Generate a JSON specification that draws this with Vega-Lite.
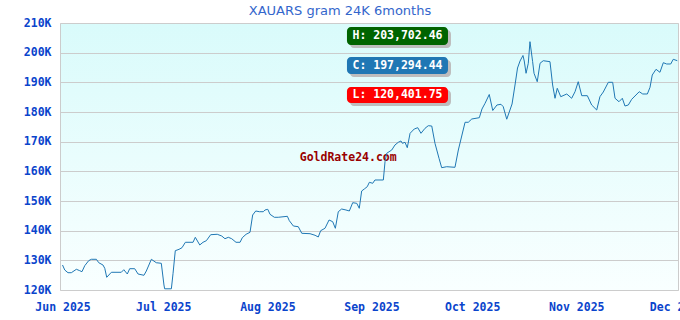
{
  "$schema": "https://vega.github.io/schema/vega-lite/v6.json",
  "width": 618,
  "height": 267,
  "autosize": {"type": "none"},
  "padding": {"left": 60, "top": 23, "right": 2, "bottom": 30},
  "background": "white",
  "title": {"text": "XAUARS gram 24K 6months", "font": "DejaVu Sans", "fontSize": 13, "fontWeight": "normal", "color": "#3366cc", "anchor": "middle", "dx": -29, "dy": 19, "offset": 5, "baseline": "bottom"},
  "config": {
    "view": {"stroke": "#cccccc", "strokeWidth": 1, "fill": {"gradient": "linear", "x1": 0, "y1": 0, "x2": 0, "y2": 1, "stops": [{"offset": 0, "color": "#d9fbfb"}, {"offset": 1, "color": "#f9ffff"}]}},
    "axis": {"title": null, "ticks": false, "domain": false, "labelFont": "DejaVu Sans Mono", "labelFontWeight": "bold", "labelFontSize": 11.5, "labelColor": "#0a44cc", "labelOverlap": false},
    "axisY": {"tickCount": 20, "grid": true, "gridColor": "#cccccc", "gridWidth": 1, "labelPadding": 9},
    "axisX": {"grid": false, "labelPadding": 11, "labelFlush": false}
  },
  "datasets": {
    "prices": [
      {"date": "2025-06-01T00:00", "price": 128430},
      {"date": "2025-06-01T16:00", "price": 126740},
      {"date": "2025-06-02T15:00", "price": 125830},
      {"date": "2025-06-03T15:00", "price": 125830},
      {"date": "2025-06-05T03:00", "price": 126980},
      {"date": "2025-06-06T03:00", "price": 126510},
      {"date": "2025-06-06T19:00", "price": 126170},
      {"date": "2025-06-07T15:00", "price": 128190},
      {"date": "2025-06-08T19:00", "price": 129880},
      {"date": "2025-06-09T14:00", "price": 130350},
      {"date": "2025-06-11T02:00", "price": 130350},
      {"date": "2025-06-11T19:00", "price": 129200},
      {"date": "2025-06-13T01:00", "price": 128430},
      {"date": "2025-06-13T14:00", "price": 127310},
      {"date": "2025-06-14T04:00", "price": 124280},
      {"date": "2025-06-15T13:00", "price": 125970},
      {"date": "2025-06-18T12:00", "price": 125970},
      {"date": "2025-06-19T06:00", "price": 126840},
      {"date": "2025-06-20T07:00", "price": 125390},
      {"date": "2025-06-21T00:00", "price": 127180},
      {"date": "2025-06-22T12:00", "price": 127180},
      {"date": "2025-06-23T12:00", "price": 125390},
      {"date": "2025-06-25T06:00", "price": 124960},
      {"date": "2025-06-25T23:00", "price": 126400},
      {"date": "2025-06-27T11:00", "price": 130350},
      {"date": "2025-06-28T22:00", "price": 129200},
      {"date": "2025-06-30T10:00", "price": 129000},
      {"date": "2025-07-01T05:00", "price": 121690},
      {"date": "2025-07-01T10:00", "price": 120402},
      {"date": "2025-07-03T10:00", "price": 120402},
      {"date": "2025-07-03T22:00", "price": 125630},
      {"date": "2025-07-04T14:00", "price": 133250},
      {"date": "2025-07-05T17:00", "price": 133720},
      {"date": "2025-07-06T14:00", "price": 134260},
      {"date": "2025-07-07T14:00", "price": 136080},
      {"date": "2025-07-09T21:00", "price": 136080},
      {"date": "2025-07-10T13:00", "price": 137760},
      {"date": "2025-07-11T21:00", "price": 135170},
      {"date": "2025-07-12T20:00", "price": 136080},
      {"date": "2025-07-13T20:00", "price": 136620},
      {"date": "2025-07-15T03:00", "price": 138640},
      {"date": "2025-07-17T02:00", "price": 138780},
      {"date": "2025-07-18T10:00", "price": 138200},
      {"date": "2025-07-19T09:00", "price": 137290},
      {"date": "2025-07-20T09:00", "price": 137760},
      {"date": "2025-07-21T09:00", "price": 137290},
      {"date": "2025-07-22T16:00", "price": 136080},
      {"date": "2025-07-23T21:00", "price": 136080},
      {"date": "2025-07-24T13:00", "price": 137630},
      {"date": "2025-07-25T16:00", "price": 138780},
      {"date": "2025-07-26T20:00", "price": 139450},
      {"date": "2025-07-27T15:00", "price": 145280},
      {"date": "2025-07-28T13:00", "price": 146630},
      {"date": "2025-07-29T15:00", "price": 146390},
      {"date": "2025-07-30T19:00", "price": 146390},
      {"date": "2025-07-31T07:00", "price": 146970},
      {"date": "2025-08-01T03:00", "price": 147200},
      {"date": "2025-08-01T19:00", "price": 145520},
      {"date": "2025-08-03T02:00", "price": 144510},
      {"date": "2025-08-04T06:00", "price": 144510},
      {"date": "2025-08-06T23:00", "price": 144840},
      {"date": "2025-08-07T13:00", "price": 143360},
      {"date": "2025-08-08T18:00", "price": 141570},
      {"date": "2025-08-10T05:00", "price": 141340},
      {"date": "2025-08-11T06:00", "price": 139110},
      {"date": "2025-08-13T17:00", "price": 138980},
      {"date": "2025-08-15T05:00", "price": 138440},
      {"date": "2025-08-16T04:00", "price": 137870},
      {"date": "2025-08-16T21:00", "price": 139990},
      {"date": "2025-08-18T04:00", "price": 140800},
      {"date": "2025-08-19T09:00", "price": 143600},
      {"date": "2025-08-20T11:00", "price": 143020},
      {"date": "2025-08-21T06:00", "price": 140800},
      {"date": "2025-08-22T03:00", "price": 146390},
      {"date": "2025-08-23T03:00", "price": 147300},
      {"date": "2025-08-24T10:00", "price": 146970},
      {"date": "2025-08-25T10:00", "price": 146630},
      {"date": "2025-08-26T10:00", "price": 149430},
      {"date": "2025-08-27T15:00", "price": 149220},
      {"date": "2025-08-28T09:00", "price": 147540},
      {"date": "2025-08-29T02:00", "price": 153370},
      {"date": "2025-08-29T21:00", "price": 154050},
      {"date": "2025-08-30T18:00", "price": 154820},
      {"date": "2025-08-31T09:00", "price": 156300},
      {"date": "2025-09-01T09:00", "price": 155970},
      {"date": "2025-09-02T01:00", "price": 157080},
      {"date": "2025-09-04T13:00", "price": 157080},
      {"date": "2025-09-05T01:00", "price": 163250},
      {"date": "2025-09-05T13:00", "price": 166080},
      {"date": "2025-09-07T01:00", "price": 167190},
      {"date": "2025-09-08T00:00", "price": 168880},
      {"date": "2025-09-09T00:00", "price": 169790},
      {"date": "2025-09-09T19:00", "price": 170230},
      {"date": "2025-09-10T05:00", "price": 169450},
      {"date": "2025-09-11T00:00", "price": 169790},
      {"date": "2025-09-11T16:00", "price": 167970},
      {"date": "2025-09-12T12:00", "price": 172820},
      {"date": "2025-09-13T18:00", "price": 174270},
      {"date": "2025-09-14T19:00", "price": 174710},
      {"date": "2025-09-15T18:00", "price": 172820},
      {"date": "2025-09-16T23:00", "price": 174510},
      {"date": "2025-09-17T22:00", "price": 175380},
      {"date": "2025-09-18T23:00", "price": 175280},
      {"date": "2025-09-19T22:00", "price": 169450},
      {"date": "2025-09-21T03:00", "price": 164390},
      {"date": "2025-09-21T22:00", "price": 161230},
      {"date": "2025-09-23T10:00", "price": 161560},
      {"date": "2025-09-25T21:00", "price": 161360},
      {"date": "2025-09-26T21:00", "price": 167190},
      {"date": "2025-09-28T21:00", "price": 176530},
      {"date": "2025-09-29T20:00", "price": 176530},
      {"date": "2025-09-30T21:00", "price": 177640},
      {"date": "2025-10-03T03:00", "price": 178080},
      {"date": "2025-10-03T22:00", "price": 181010},
      {"date": "2025-10-04T20:00", "price": 182930},
      {"date": "2025-10-06T02:00", "price": 185900},
      {"date": "2025-10-07T03:00", "price": 180510},
      {"date": "2025-10-08T09:00", "price": 182360},
      {"date": "2025-10-09T14:00", "price": 182600},
      {"date": "2025-10-10T06:00", "price": 181790},
      {"date": "2025-10-11T07:00", "price": 177570},
      {"date": "2025-10-12T21:00", "price": 182700},
      {"date": "2025-10-13T18:00", "price": 189100},
      {"date": "2025-10-14T12:00", "price": 194830},
      {"date": "2025-10-15T06:00", "price": 197190},
      {"date": "2025-10-16T03:00", "price": 199050},
      {"date": "2025-10-16T12:00", "price": 197190},
      {"date": "2025-10-17T01:00", "price": 193050},
      {"date": "2025-10-17T17:00", "price": 196420},
      {"date": "2025-10-18T05:00", "price": 203702},
      {"date": "2025-10-19T00:00", "price": 196960},
      {"date": "2025-10-19T10:00", "price": 193050},
      {"date": "2025-10-20T09:00", "price": 190210},
      {"date": "2025-10-21T05:00", "price": 196420},
      {"date": "2025-10-22T04:00", "price": 197290},
      {"date": "2025-10-24T04:00", "price": 196960},
      {"date": "2025-10-24T23:00", "price": 189100},
      {"date": "2025-10-25T16:00", "price": 184620},
      {"date": "2025-10-26T08:00", "price": 187990},
      {"date": "2025-10-27T09:00", "price": 185160},
      {"date": "2025-10-29T04:00", "price": 186070},
      {"date": "2025-10-30T15:00", "price": 184620},
      {"date": "2025-10-31T15:00", "price": 186840},
      {"date": "2025-11-01T14:00", "price": 190210},
      {"date": "2025-11-02T15:00", "price": 185500},
      {"date": "2025-11-04T07:00", "price": 185500},
      {"date": "2025-11-05T14:00", "price": 182360},
      {"date": "2025-11-07T02:00", "price": 180670},
      {"date": "2025-11-08T01:00", "price": 185160},
      {"date": "2025-11-09T01:00", "price": 186740},
      {"date": "2025-11-10T13:00", "price": 190010},
      {"date": "2025-11-11T20:00", "price": 190010},
      {"date": "2025-11-12T13:00", "price": 184620},
      {"date": "2025-11-13T17:00", "price": 183470},
      {"date": "2025-11-14T17:00", "price": 184620},
      {"date": "2025-11-15T12:00", "price": 182020},
      {"date": "2025-11-16T12:00", "price": 182360},
      {"date": "2025-11-17T12:00", "price": 184280},
      {"date": "2025-11-19T18:00", "price": 186840},
      {"date": "2025-11-20T19:00", "price": 186070},
      {"date": "2025-11-22T04:00", "price": 186070},
      {"date": "2025-11-22T23:00", "price": 188330},
      {"date": "2025-11-23T15:00", "price": 192470},
      {"date": "2025-11-24T18:00", "price": 194390},
      {"date": "2025-11-25T22:00", "price": 193380},
      {"date": "2025-11-26T22:00", "price": 196620},
      {"date": "2025-11-27T22:00", "price": 196180},
      {"date": "2025-11-29T03:00", "price": 196180},
      {"date": "2025-11-29T21:00", "price": 197760},
      {"date": "2025-12-01T02:00", "price": 197294}
    ]
  },
  "layer": [
    {
      "data": {"values": [{"t": "GoldRate24.com"}]},
      "mark": {"type": "text", "font": "DejaVu Sans Mono", "fontWeight": "bold", "fontSize": 11.5, "color": "#990000"},
      "encoding": {
        "x": {"datum": {"year": 2025, "month": "aug", "date": 25, "hours": 2}},
        "y": {"datum": 164500},
        "text": {"field": "t"}
      }
    },
    {
      "data": {"values": [{"label": "H: 203,702.46"}]},
      "layer": [
        {"mark": {"type": "rect", "color": "#bdbdbd", "cornerRadius": 4, "xOffset": 3, "x2Offset": 3, "yOffset": 3, "y2Offset": 3},
          "encoding": {"x": {"datum": {"year": 2025, "month": "aug", "date": 24, "hours": 17}}, "x2": {"datum": {"year": 2025, "month": "sep", "date": 23, "hours": 19}}, "y": {"datum": 208650}, "y2": {"datum": 202580}}},
        {"mark": {"type": "rect", "color": "#006400", "cornerRadius": 4},
          "encoding": {"x": {"datum": {"year": 2025, "month": "aug", "date": 24, "hours": 17}}, "x2": {"datum": {"year": 2025, "month": "sep", "date": 23, "hours": 19}}, "y": {"datum": 208650}, "y2": {"datum": 202580}}},
        {"mark": {"type": "text", "color": "white", "font": "DejaVu Sans Mono", "fontWeight": "bold", "fontSize": 11.5},
          "encoding": {"x": {"datum": {"year": 2025, "month": "sep", "date": 8, "hours": 18}}, "y": {"datum": 205620}, "text": {"field": "label"}}}
      ]
    },
    {
      "data": {"values": [{"label": "C: 197,294.44"}]},
      "layer": [
        {"mark": {"type": "rect", "color": "#bdbdbd", "cornerRadius": 4, "xOffset": 3, "x2Offset": 3, "yOffset": 3, "y2Offset": 3},
          "encoding": {"x": {"datum": {"year": 2025, "month": "aug", "date": 24, "hours": 17}}, "x2": {"datum": {"year": 2025, "month": "sep", "date": 23, "hours": 19}}, "y": {"datum": 198540}, "y2": {"datum": 192810}}},
        {"mark": {"type": "rect", "color": "#1f77b4", "cornerRadius": 4},
          "encoding": {"x": {"datum": {"year": 2025, "month": "aug", "date": 24, "hours": 17}}, "x2": {"datum": {"year": 2025, "month": "sep", "date": 23, "hours": 19}}, "y": {"datum": 198540}, "y2": {"datum": 192810}}},
        {"mark": {"type": "text", "color": "white", "font": "DejaVu Sans Mono", "fontWeight": "bold", "fontSize": 11.5},
          "encoding": {"x": {"datum": {"year": 2025, "month": "sep", "date": 8, "hours": 18}}, "y": {"datum": 195670}, "text": {"field": "label"}}}
      ]
    },
    {
      "data": {"values": [{"label": "L: 120,401.75"}]},
      "layer": [
        {"mark": {"type": "rect", "color": "#bdbdbd", "cornerRadius": 4, "xOffset": 3, "x2Offset": 3, "yOffset": 3, "y2Offset": 3},
          "encoding": {"x": {"datum": {"year": 2025, "month": "aug", "date": 24, "hours": 17}}, "x2": {"datum": {"year": 2025, "month": "sep", "date": 23, "hours": 19}}, "y": {"datum": 188430}, "y2": {"datum": 183030}}},
        {"mark": {"type": "rect", "color": "#ff0000", "cornerRadius": 4},
          "encoding": {"x": {"datum": {"year": 2025, "month": "aug", "date": 24, "hours": 17}}, "x2": {"datum": {"year": 2025, "month": "sep", "date": 23, "hours": 19}}, "y": {"datum": 188430}, "y2": {"datum": 183030}}},
        {"mark": {"type": "text", "color": "white", "font": "DejaVu Sans Mono", "fontWeight": "bold", "fontSize": 11.5},
          "encoding": {"x": {"datum": {"year": 2025, "month": "sep", "date": 8, "hours": 18}}, "y": {"datum": 185730}, "text": {"field": "label"}}}
      ]
    },
    {
      "data": {"name": "prices"},
      "mark": {"type": "line", "color": "#1f77b4", "strokeWidth": 1, "clip": true},
      "encoding": {
        "x": {"field": "date", "type": "temporal",
          "scale": {"domain": [{"year": 2025, "month": "may", "date": 31, "hours": 6}, {"year": 2025, "month": "dec", "date": 1, "hours": 7}]},
          "axis": {"values": [{"year": 2025, "month": "jun", "date": 1}, {"year": 2025, "month": "jul", "date": 1}, {"year": 2025, "month": "aug", "date": 1}, {"year": 2025, "month": "sep", "date": 1}, {"year": 2025, "month": "oct", "date": 1}, {"year": 2025, "month": "nov", "date": 1}, {"year": 2025, "month": "dec", "date": 1}],
            "tickCount": 20, "format": "%b %Y", "grid": false, "labelPadding": 11, "labelFlush": false, "labelOverlap": false}},
        "y": {"field": "price", "type": "quantitative",
          "scale": {"domain": [120000, 210000], "nice": false, "zero": false},
          "axis": {"values": [120000, 130000, 140000, 150000, 160000, 170000, 180000, 190000, 200000, 210000], "tickCount": 20,
            "labelExpr": "(datum.value / 1000) + 'K'", "grid": true, "gridColor": "#cccccc", "gridWidth": 1, "labelPadding": 9, "labelOverlap": false}}
      }
    }
  ]
}
